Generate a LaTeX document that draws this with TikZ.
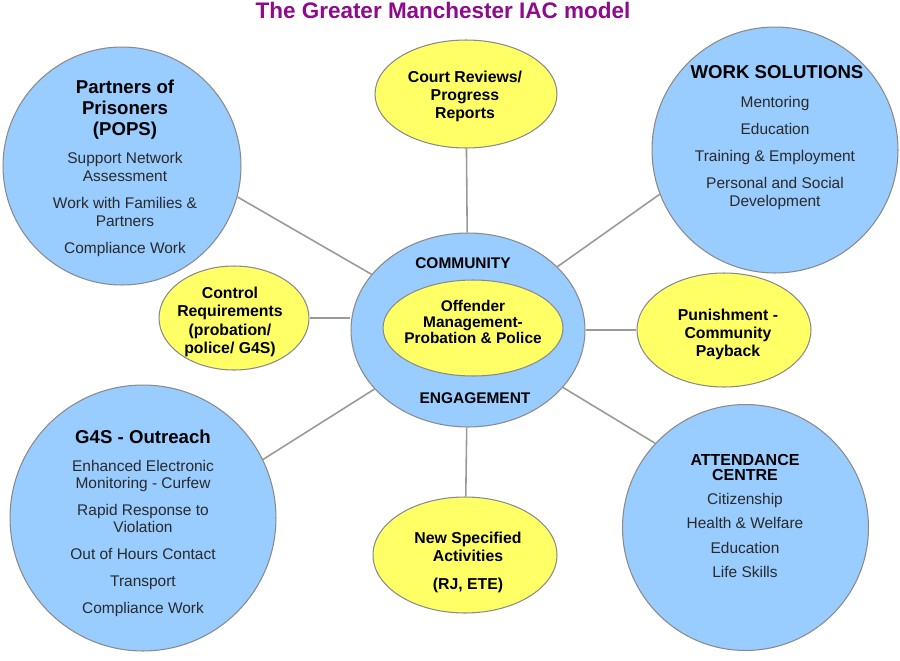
\documentclass[tikz,border=0pt]{standalone}
\usepackage{fontspec}
\setmainfont{Liberation Sans}
\usetikzlibrary{shapes.geometric}
\definecolor{nodeblue}{HTML}{99CCFF}
\definecolor{nodeyellow}{HTML}{FFFF66}
\definecolor{edgegray}{HTML}{8A8A8A}
\definecolor{conngray}{HTML}{9A9A9A}
\definecolor{titlepurple}{HTML}{8C0C8C}
\definecolor{bodytext}{HTML}{2A2A2A}
\tikzset{
  bluecirc/.style={circle, draw=edgegray, fill=nodeblue, line width=0.6pt, inner sep=0pt},
  yellowell/.style={ellipse, draw=edgegray, fill=nodeyellow, line width=0.6pt, inner sep=0pt},
  blueell/.style={ellipse, draw=edgegray, fill=nodeblue, line width=0.6pt, inner sep=0pt},
  conn/.style={draw=conngray, line width=0.9pt},
  txt/.style={inner sep=0pt, align=center, anchor=north},
  headfont/.style={font=\fontsize{10.6}{11.95}\selectfont\bfseries, text=black},
  bodyfont/.style={font=\fontsize{8.8}{10.24}\selectfont, text=bodytext},
  ylwfont/.style={font=\fontsize{9.0}{10.3}\selectfont\bfseries, text=black},
}
\begin{document}
\begin{tikzpicture}[x=0.02cm, y=-0.02cm]
\useasboundingbox[fill=white] (0,0) rectangle (900,660);

% shapes
\node[bluecirc, minimum size=4.76cm] (pops) at (122,166) {};
\node[bluecirc, minimum size=4.92cm] (work) at (775,150) {};
\node[bluecirc, minimum size=5.32cm] (g4s) at (143,518) {};
\node[bluecirc, minimum size=4.92cm] (att) at (745.5,527.5) {};
\node[yellowell, minimum width=3.64cm, minimum height=2.16cm] (court) at (466,94) {};
\node[yellowell, minimum width=3.0cm, minimum height=2.08cm] (ctrl) at (234,318) {};
\node[yellowell, minimum width=3.48cm, minimum height=2.28cm] (pun) at (724,330) {};
\node[yellowell, minimum width=3.68cm, minimum height=2.32cm] (new) at (465,555) {};
\node[blueell, minimum width=4.68cm, minimum height=3.88cm] (ctr) at (468,330) {};
\node[yellowell, minimum width=3.6cm, minimum height=1.92cm] (inner) at (473,328) {};

% connectors
\draw[conn] (ctr) -- (pops.-15.5);
\draw[conn] (court) -- (ctr);
\draw[conn] (ctr) -- (work.-159.4);
\draw[conn] (ctrl.east) -- (ctrl.east -| ctr.west);
\draw[conn] (pun.west) -- (ctr.east);
\draw[conn] (ctr) -- (g4s.26.5);
\draw[conn] (ctr) -- (new);
\draw[conn] (ctr) -- (att.137.6);

% title
\node[txt, font=\fontsize{12.8}{14}\selectfont\bfseries, text=titlepurple] (title) at (443,2) {The Greater Manchester IAC model};

% POPS
\node[txt, headfont] (popsh) at (125,80) {Partners of\\Prisoners\\(POPS)};
\node[txt, bodyfont] (popsb) at (125,152) {Support Network\\Assessment\\[5.1pt]Work with Families \&\\Partners\\[5.1pt]Compliance Work};

% WORK SOLUTIONS
\node[txt, headfont] (workh) at (777,65) {WORK SOLUTIONS};
\node[txt, bodyfont] (workb) at (775,96) {Mentoring\\[5.1pt]Education\\[5.1pt]Training \& Employment\\[5.1pt]Personal and Social\\Development};

% G4S
\node[txt, headfont] (g4sh) at (143,430) {G4S - Outreach};
\node[txt, bodyfont, font=\fontsize{8.8}{9.67}\selectfont] (g4sb) at (143,460) {Enhanced Electronic\\Monitoring - Curfew\\[5.7pt]Rapid Response to\\Violation\\[5.7pt]Out of Hours Contact\\[5.7pt]Transport\\[5.7pt]Compliance Work};

% ATTENDANCE CENTRE
\node[txt, font=\fontsize{9.1}{8.6}\selectfont\bfseries, text=black] (atth) at (745,453.5) {ATTENDANCE\\CENTRE};
\node[txt, bodyfont, font=\fontsize{8.8}{13.8}\selectfont] (attb) at (745,493) {Citizenship\\Health \& Welfare\\Education\\Life Skills};

% yellow nodes
\node[txt, ylwfont] (courtt) at (465,70.5) {Court Reviews/\\Progress\\Reports};
\node[txt, ylwfont] (ctrlt) at (230,287) {Control\\Requirements\\(probation/\\police/ G4S)};
\node[txt, ylwfont] (punt) at (728,308.5) {Punishment -\\Community\\Payback};
\node[txt, ylwfont, font=\fontsize{9.0}{10.5}\selectfont\bfseries] (newt) at (468,531.5) {New Specified\\Activities\\[5.4pt](RJ, ETE)};

% central
\node[txt, font=\fontsize{8.8}{9.1}\selectfont\bfseries, text=black] (comm) at (463,257) {COMMUNITY};
\node[txt, font=\fontsize{8.8}{9.1}\selectfont\bfseries, text=black] (innert) at (473,300) {Offender\\Management-\\Probation \& Police};
\node[txt, font=\fontsize{8.8}{9.1}\selectfont\bfseries, text=black] (eng) at (475,392) {ENGAGEMENT};
\end{tikzpicture}
\end{document}
